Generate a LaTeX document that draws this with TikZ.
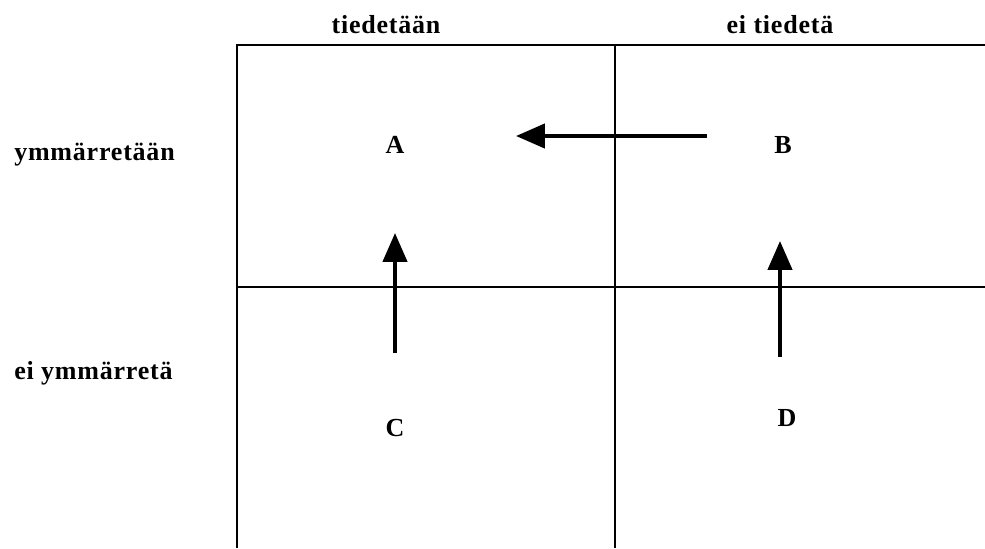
\documentclass[tikz,border=0pt]{standalone}
\usepackage{fontspec}
\setmainfont{Liberation Serif}[LetterSpace=3]
\usetikzlibrary{arrows.meta, positioning}
\tikzset{
	lbl/.style     ={font=\fontsize{18.5}{21}\selectfont\bfseries, inner sep=0pt},
	gridline/.style={line width=1.5pt},
	move/.style    ={-{Triangle[length=7.2mm, width=6mm]}, line width=2.8pt},
}
\begin{document}
\begin{tikzpicture}[x=0.025cm, y=-0.025cm]
	\useasboundingbox (0,0) rectangle (985,548);
	% grid
	\draw[gridline] (237,548) -- (237,45) -- (985,45);
	\draw[gridline] (615,45) -- (615,548);
	\draw[gridline] (237,287) -- (985,287);
	% headings
	\node[lbl] (know) at (386,25) {tiedetään};
	\node[lbl] (noknow) at (780,25) {ei tiedetä};
	\node[lbl, anchor=west] (under) at (14,155) {ymmärretään};
	\node[lbl, anchor=west] (nounder) at (14,373) {ei ymmärretä};
	% quadrants
	\node[lbl] (qa) at (395,145) {A};
	\node[lbl] (qb) at (783,145) {B};
	\node[lbl] (qc) at (395,428) {C};
	\node[lbl] (qd) at (787,418) {D};
	% arrow ends
	\coordinate (ba) at (707,136);
	\coordinate (ab) at (516,136);
	\coordinate (ca) at (395,353);
	\coordinate (ac) at (395,233);
	\coordinate (db) at (780,357);
	\coordinate (bd) at (780,241);
	\draw[move] (ba) -- (ab);
	\draw[move] (ca) -- (ac);
	\draw[move] (db) -- (bd);
\end{tikzpicture}
\end{document}
